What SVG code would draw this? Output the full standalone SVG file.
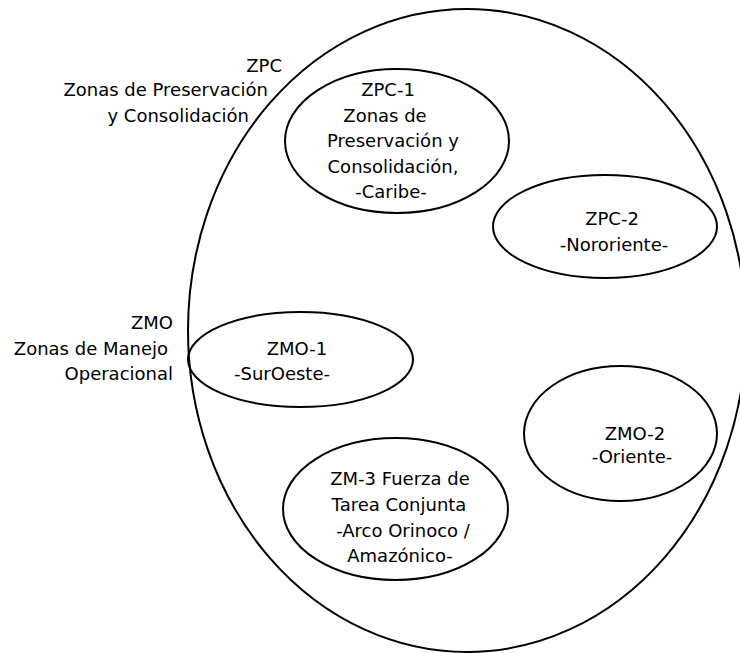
<svg xmlns="http://www.w3.org/2000/svg" width="740" height="653" viewBox="0 0 740 653">
<style>
  .e { fill: none; stroke: #000; stroke-width: 2; }
  .t { font-family: "DejaVu Sans", Verdana, sans-serif; font-size: 18px; fill: #000; }
  .m { text-anchor: middle; }
  .r { text-anchor: end; }
</style>
<rect width="740" height="653" fill="#fff"/>
<g id="outer">
  <ellipse class="e" cx="467" cy="330.5" rx="279" ry="321.5"/>
</g>
<g id="label-zpc">
  <text class="t r" x="282" y="72">ZPC</text>
  <text class="t r" x="268" y="96">Zonas de Preservación</text>
  <text class="t r" x="249" y="122">y Consolidación</text>
</g>
<g id="label-zmo">
  <text class="t r" x="173" y="329">ZMO</text>
  <text class="t r" x="168" y="354.5">Zonas de Manejo</text>
  <text class="t r" x="173" y="380">Operacional</text>
</g>
<g id="zpc1">
  <ellipse class="e" cx="397" cy="141" rx="112" ry="72"/>
  <text class="t m" x="388" y="96">ZPC-1</text>
  <text class="t m" x="385" y="121.5">Zonas de</text>
  <text class="t m" x="393" y="147">Preservación y</text>
  <text class="t m" x="393" y="172.5">Consolidación,</text>
  <text class="t m" x="391" y="198">-Caribe-</text>
</g>
<g id="zpc2">
  <ellipse class="e" cx="605" cy="226.5" rx="112" ry="51.5"/>
  <text class="t m" x="612" y="225">ZPC-2</text>
  <text class="t m" x="614" y="251">-Nororiente-</text>
</g>
<g id="zmo1">
  <ellipse class="e" cx="300.5" cy="359.5" rx="112.5" ry="47.5"/>
  <text class="t m" x="297" y="355">ZMO-1</text>
  <text class="t m" x="282" y="380">-SurOeste-</text>
</g>
<g id="zmo2">
  <ellipse class="e" cx="620.5" cy="433.5" rx="96.5" ry="67.5"/>
  <text class="t m" x="635" y="440">ZMO-2</text>
  <text class="t m" x="632" y="463">-Oriente-</text>
</g>
<g id="zm3">
  <ellipse class="e" cx="395.5" cy="509" rx="112.5" ry="71"/>
  <text class="t m" x="400" y="485">ZM-3 Fuerza de</text>
  <text class="t m" x="399" y="511">Tarea Conjunta</text>
  <text class="t m" x="403" y="537">-Arco Orinoco /</text>
  <text class="t m" x="400" y="562">Amazónico-</text>
</g>
<g id="connectors"></g>
</svg>
